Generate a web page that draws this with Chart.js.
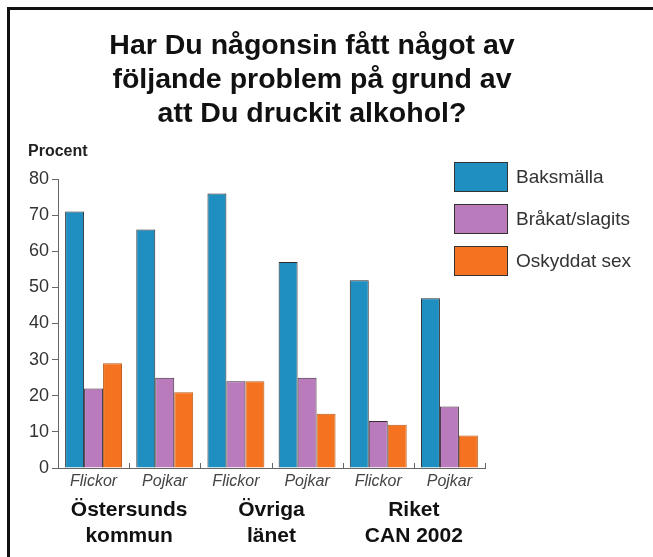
<!DOCTYPE html>
<html>
<head>
<meta charset="utf-8">
<script src="https://cdn.jsdelivr.net/npm/chart.js@4/dist/chart.umd.min.js"></script>
<style>
  body { margin: 0; background: #fff; font-family: "Liberation Sans", Arial, sans-serif; }
  #wrap { position: relative; width: 653px; height: 557px; overflow: hidden; }
  #frame { position: absolute; left: 7px; top: 7px; width: 700px; height: 600px;
           border-left: 3px solid #111; border-top: 3px solid #111; }
  #title { position: absolute; left: 72px; width: 480px; top: 27px; text-align: center;
           font-weight: bold; font-size: 28.5px; line-height: 34px; color: #111; white-space: nowrap; }
  #ytitle { position: absolute; left: 28px; top: 142px; font-weight: bold; font-size: 16px; color: #222; }
  #legend { position: absolute; left: 454px; top: 162px; }
  .item { display: flex; align-items: center; height: 30px; margin-bottom: 12px; }
  .box { width: 52px; height: 28px; border: 1px solid #333; }
  .lbl { margin-left: 8px; font-size: 19px; color: #333; white-space: nowrap; }
  canvas { position: absolute; left: 0; top: 0; }
</style>
</head>
<body>
<div id="wrap">
  <div id="frame"></div>
  <canvas id="chart" width="653" height="557"></canvas>
  <div id="title">Har Du någonsin fått något av<br>följande problem på grund av<br>att Du druckit alkohol?</div>
  <div id="ytitle">Procent</div>
  <div id="legend"></div>
</div>
<script>
// data
const categories = ['Flickor', 'Pojkar', 'Flickor', 'Pojkar', 'Flickor', 'Pojkar'];
const groupLabels = [['Östersunds', 'kommun'], ['Övriga', 'länet'], ['Riket', 'CAN 2002']];
const seriesNames = ['Baksmälla', 'Bråkat/slagits', 'Oskyddat sex'];
const baksmalla = [71, 66, 76, 57, 52, 47];
const brakat = [22, 25, 24, 25, 13, 17];
const oskyddat = [29, 21, 24, 15, 12, 9];
const yMin = 0, yMax = 80, yStep = 10;

const colors = ['#1f8fc1', '#b97bbb', '#f57320'];

// small upward tick marks between the categories
const catTicks = {
    id: 'catTicks',
    afterDatasetsDraw(chart) {
        const x = chart.scales.x;
        const bottom = chart.chartArea.bottom;
        const ctx = chart.ctx;
        ctx.save();
        ctx.strokeStyle = '#666';
        ctx.lineWidth = 1;
        for (let i = 0; i < categories.length; i++) {
            const half = (x.getPixelForValue(1) - x.getPixelForValue(0)) / 2;
            const px = Math.round(x.getPixelForValue(i) + half) + 0.5;
            ctx.beginPath();
            ctx.moveTo(px, bottom);
            ctx.lineTo(px, bottom - 5);
            ctx.stroke();
        }
        ctx.restore();
    }
};

const chart = new Chart(document.getElementById('chart'), {
    type: 'bar',
    data: {
        labels: categories,
        datasets: [
            { label: seriesNames[0], data: baksmalla, backgroundColor: colors[0], borderColor: '#2a2a2a', borderWidth: 1 },
            { label: seriesNames[1], data: brakat, backgroundColor: colors[1], borderColor: '#3a2a3a', borderWidth: 1 },
            { label: seriesNames[2], data: oskyddat, backgroundColor: colors[2], borderColor: '#b85a18', borderWidth: 1 }
        ]
    },
    options: {
        responsive: false,
        animation: false,
        layout: { padding: { top: 179, right: 168, left: 0, bottom: 0 } },
        categoryPercentage: 0.8,
        barPercentage: 1,
        plugins: {
            legend: { display: false },
            tooltip: { enabled: false }
        },
        scales: {
            x: {
                offset: true,
                grid: { display: true, drawOnChartArea: false, drawTicks: false, color: 'rgba(0,0,0,0)' },
                border: { color: '#666' },
                ticks: {
                    color: '#444',
                    padding: 4,
                    font: { family: 'Liberation Sans', size: 16, style: 'italic' }
                },
                afterFit: function(s) { s.height = 22; }
            },
            x2: {
                type: 'category',
                labels: groupLabels,
                position: 'bottom',
                offset: true,
                grid: { display: false },
                border: { display: false },
                ticks: {
                    color: '#111',
                    padding: 0,
                    autoSkip: false,
                    maxRotation: 0,
                    font: { family: 'Liberation Sans', size: 21, weight: 'bold', lineHeight: 1.2 }
                },
                afterFit: function(s) { s.height = 67; }
            },
            y: {
                min: yMin,
                max: yMax,
                grid: { drawOnChartArea: false, tickLength: 6, color: '#666' },
                border: { color: '#666' },
                ticks: {
                    stepSize: yStep,
                    color: '#333',
                    padding: 3,
                    font: { family: 'Liberation Sans', size: 18 }
                },
                afterFit: function(s) { s.width = 58; }
            }
        }
    },
    plugins: [catTicks]
});

// legend built from the chart's datasets
const legend = document.getElementById('legend');
chart.data.datasets.forEach(ds => {
    const item = document.createElement('div');
    item.className = 'item';
    item.innerHTML = '<div class="box" style="background:' + ds.backgroundColor + '"></div>' +
        '<div class="lbl">' + ds.label + '</div>';
    legend.appendChild(item);
});
</script>
</body>
</html>
